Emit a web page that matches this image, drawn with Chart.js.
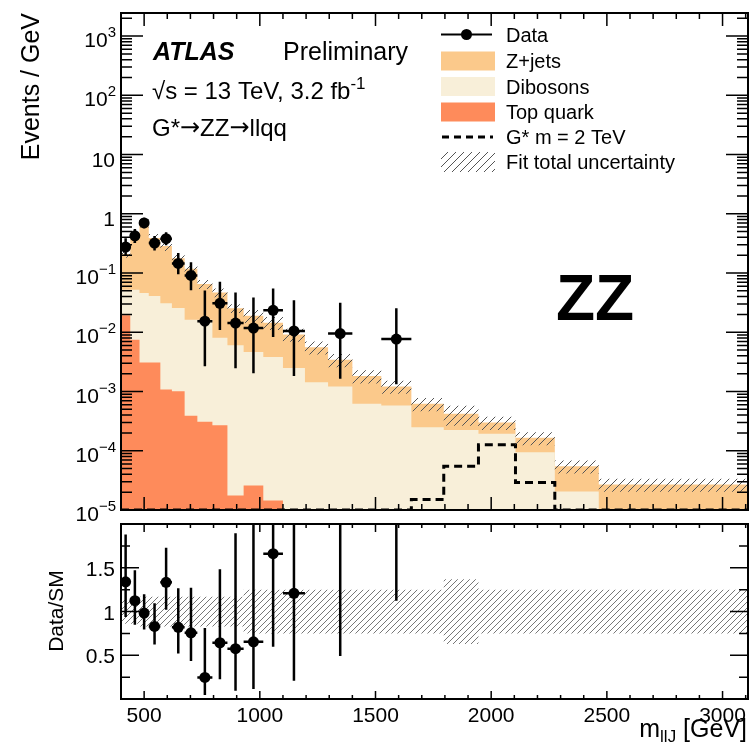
<!DOCTYPE html>
<html>
<head>
<meta charset="utf-8">
<script src="https://cdn.jsdelivr.net/npm/chart.js@4.4.0/dist/chart.umd.min.js"></script>
<style>
  html, body { margin: 0; padding: 0; background: #ffffff; }
  #wrap { position: relative; width: 755px; height: 752px; overflow: hidden; }
  #wrap canvas { position: absolute; left: 0; }
  #main { top: 0; }
  #ratio { top: 515px; }
</style>
</head>
<body>
<div id="wrap">
  <canvas id="main" width="755" height="540"></canvas>
  <canvas id="ratio" width="755" height="237"></canvas>
</div>
<script>
// ---- m_llJ binning [GeV] ----
const binEdges = [400, 440, 480, 520, 570, 620, 675, 730, 795, 860, 930, 1015, 1100,
                  1195, 1295, 1400, 1525, 1655, 1795, 1945, 2105, 2275, 2465, 3110];

// ---- background expectations, events / GeV ----
const zJets    = [0.158, 0.328, 0.664, 0.349, 0.254, 0.152, 0.102, 0.0487, 0.0389, 0.0195,
                  0.0144, 0.0107, 0.0067, 0.00416, 0.00222, 0.0012, 0.00064, 0.00037,
                  0.000195, 0.000107, 0.000071, 0.0000344, 0.000021];
const dibosons = [0.0327, 0.0445, 0.0429, 0.0379, 0.0299, 0.0246, 0.0159, 0.0160, 0.0078, 0.0060,
                  0.0046, 0.0038, 0.0025, 0.00144, 0.00122, 0.00062, 0.00058, 0.00025,
                  0.000225, 0.000193, 0.000094, 0.0000206, 0.000006];
const topQuark = [0.0193, 0.0075, 0.0031, 0.0031, 0.00108, 0.00101, 0.00039, 0.00031, 0.00027,
                  0.0000175, 0.000026, 0.0000145, 0, 0, 0, 0, 0, 0, 0, 0, 0, 0, 0];

// ---- G* (m = 2 TeV) signal, events / GeV ----
const signalG  = [0, 0, 0, 0, 0, 0, 0, 0, 0, 0, 0, 0, 0, 0, 0, 0, 0,
                  0.000015, 0.000055, 0.000126, 0.000029, 0, 0];

// ---- relative fit uncertainty on the total background ----
const fitUnc   = [0.14, 0.14, 0.17, 0.17, 0.17, 0.17, 0.17, 0.17, 0.17, 0.17,
                  0.25, 0.25, 0.25, 0.25, 0.25, 0.25, 0.25, 0.25, 0.37, 0.25, 0.25, 0.25, 0.25];

// ---- data, events / GeV, with lower / upper error-bar ends ----
const dataVal  = [0.275, 0.425, 0.70, 0.32, 0.38, 0.1455, 0.0909, 0.01538, 0.0308, 0.01429,
                  0.01176, 0.0235, 0.01053, null, 0.00952, null, 0.00769, null, null, null, null, null, null];
const dataLo   = [0.193, 0.3225, 0.5675, 0.24, 0.294, 0.0949, 0.0513, 0.00266, 0.0109, 0.00247,
                  0.00204, 0.0083, 0.00182, null, 0.00165, null, 0.00133, null, null, null, null, null, null];
const dataHi   = [0.386, 0.555, 0.86, 0.422, 0.488, 0.2175, 0.1527, 0.0508, 0.0714, 0.0471,
                  0.0388, 0.0546, 0.0347, null, 0.0314, null, 0.0254, null, null, null, null, null, null];

// ---- Data / SM ----
const ratioVal = [1.339, 1.124, 0.982, 0.830, 1.333, 0.819, 0.756, 0.247, 0.643, 0.575,
                  0.654, 1.661, 1.208, null, 2.77, null, 6.3, null, null, null, null, null, null];
const ratioLo  = [0.937, 0.849, 0.793, 0.623, 1.019, 0.521, 0.434, 0.046, 0.227, 0.095,
                  0.114, 0.597, 0.208, null, 0.491, null, 1.124, null, null, null, null, null, null];
const ratioHi  = [1.879, 1.472, 1.197, 1.095, 1.728, 1.265, 1.272, 0.812, 1.483, 1.894,
                  2.16, 3.86, 3.99, null, 9.1, null, 20.8, null, null, null, null, null, null];

// ---- axis ticks ----
const xTickLabels     = [500, 1000, 1500, 2000, 2500, 3000];
const yDecades        = [-5, -4, -3, -2, -1, 0, 1, 2, 3];
const ratioTickLabels = [0.5, 1, 1.5];

// ---- axis ranges ----
const X_MIN = 400, X_MAX = 3110;
const Y_MIN = 1e-5, Y_MAX = 2450;
const R_MIN = 0, R_MAX = 2;

const FONT = '"Liberation Sans", Arial, Helvetica, sans-serif';
const ARROW_FONT = '"DejaVu Sans", sans-serif';
const C_ZJETS = '#fbc98b';
const C_DIBOSON = '#f8efd9';
const C_TOP = '#fe8b5b';

const nBins = binEdges.length - 1;
const binCenter = binEdges.slice(0, -1).map((e, i) => (e + binEdges[i + 1]) / 2);

// stacked sums for drawing the stack
const dibTop = dibosons.map((d, i) => d + topQuark[i]);
const total = zJets.map((z, i) => z + dibTop[i]);

// histogram outline points (left edges + closing right edge) for a stepped line
function stepPoints(vals, floor) {
  const pts = vals.map((v, i) => ({ x: binEdges[i], y: Math.max(v, floor) }));
  pts.push({ x: binEdges[nBins], y: Math.max(vals[nBins - 1], floor) });
  return pts;
}

function hatchPattern(size, color, width) {
  const c = document.createElement('canvas');
  c.width = size; c.height = size;
  const g = c.getContext('2d');
  g.strokeStyle = color; g.lineWidth = width;
  g.beginPath();
  g.moveTo(0, size); g.lineTo(size, 0);
  g.moveTo(-size, size); g.lineTo(size, -size);
  g.moveTo(0, 2 * size); g.lineTo(2 * size, 0);
  g.stroke();
  return g.createPattern(c, 'repeat');
}
const hatchMain = hatchPattern(8, '#555555', 1);
const hatchRatio = hatchPattern(6, '#777777', 1);

function pointsWithErrors(vals, lo, hi) {
  const pts = [];
  vals.forEach((v, i) => {
    if (v === null) return;
    pts.push({ x: binCenter[i], y: v, lo: lo[i], hi: hi[i], x0: binEdges[i], x1: binEdges[i + 1] });
  });
  return pts;
}

// error bars drawn just before the data markers
const errorBars = {
  id: 'errorBars',
  beforeDatasetDraw(chart, args) {
    const ds = chart.data.datasets[args.index];
    if (!ds.withErrors) return;
    const { ctx, chartArea: a } = chart;
    const xs = chart.scales.x, ys = chart.scales.y;
    ctx.save();
    ctx.beginPath();
    ctx.rect(a.left, a.top, a.right - a.left, a.bottom - a.top);
    ctx.clip();
    ctx.strokeStyle = '#000';
    ctx.lineWidth = 2.5;
    ds.data.forEach(p => {
      const px = xs.getPixelForValue(p.x);
      const py = ys.getPixelForValue(p.y);
      ctx.beginPath();
      ctx.moveTo(px, ys.getPixelForValue(p.lo));
      ctx.lineTo(px, ys.getPixelForValue(p.hi));
      ctx.moveTo(xs.getPixelForValue(p.x0), py);
      ctx.lineTo(xs.getPixelForValue(p.x1), py);
      ctx.stroke();
    });
    ctx.restore();
  }
};

// text with optional raised / lowered parts
function drawPieces(ctx, pieces, x, y, align) {
  let w = 0;
  pieces.forEach(p => { ctx.font = p.font; w += ctx.measureText(p.t).width; });
  let cx = align === 'right' ? x - w : (align === 'center' ? x - w / 2 : x);
  ctx.textAlign = 'left';
  ctx.textBaseline = 'alphabetic';
  pieces.forEach(p => {
    ctx.font = p.font;
    ctx.fillText(p.t, cx, y + (p.dy || 0));
    cx += ctx.measureText(p.t).width;
  });
}

function drawFrameTicks(chart, cfg) {
  const { ctx, chartArea: a } = chart;
  const xs = chart.scales.x, ys = chart.scales.y;
  ctx.save();
  ctx.strokeStyle = '#000';
  ctx.lineWidth = 1.5;
  ctx.beginPath();
  // x ticks (bottom and top edges)
  for (let v = 500; v <= X_MAX; v += 100) {
    const px = xs.getPixelForValue(v);
    const len = v % 500 === 0 ? cfg.xMajor : cfg.xMinor;
    ctx.moveTo(px, a.bottom); ctx.lineTo(px, a.bottom - len);
    ctx.moveTo(px, a.top); ctx.lineTo(px, a.top + len);
  }
  // y ticks (left and right edges)
  cfg.yTicks.forEach(t => {
    const py = ys.getPixelForValue(t.v);
    ctx.moveTo(a.left, py); ctx.lineTo(a.left + t.len, py);
    ctx.moveTo(a.right, py); ctx.lineTo(a.right - t.len, py);
  });
  ctx.stroke();
  ctx.lineWidth = 2;
  ctx.strokeRect(a.left, a.top, a.right - a.left, a.bottom - a.top);
  ctx.restore();
}

// ---- upper panel decorations ----
const mainDecor = {
  id: 'mainDecor',
  afterDraw(chart) {
    const { ctx } = chart;
    const ys = chart.scales.y;
    const yTicks = [];
    yDecades.forEach(k => {
      yTicks.push({ v: Math.pow(10, k), len: 22 });
      for (let m = 2; m <= 9; m++) {
        const v = m * Math.pow(10, k);
        if (v < Y_MAX) yTicks.push({ v: v, len: 11 });
      }
    });
    drawFrameTicks(chart, { xMajor: 13, xMinor: 6, yTicks: yTicks });

    ctx.save();
    ctx.fillStyle = '#000';
    // y tick labels
    yDecades.forEach(k => {
      const py = ys.getPixelForValue(Math.pow(10, k));
      if (k === 0) drawPieces(ctx, [{ t: '1', font: '21px ' + FONT }], 115, py + 12, 'right');
      else if (k === 1) drawPieces(ctx, [{ t: '10', font: '21px ' + FONT }], 115, py + 12, 'right');
      else drawPieces(ctx, [
        { t: '10', font: '21px ' + FONT },
        { t: (k < 0 ? '\u2212' : '') + Math.abs(k), font: '15px ' + FONT, dy: -10 }
      ], 116, py + 11, 'right');
    });
    // y axis title
    ctx.save();
    ctx.translate(39, 13);
    ctx.rotate(-Math.PI / 2);
    ctx.font = '25px ' + FONT;
    ctx.textAlign = 'right';
    ctx.textBaseline = 'alphabetic';
    ctx.fillText('Events / GeV', 0, 0);
    ctx.restore();

    // labels
    drawPieces(ctx, [{ t: 'ATLAS', font: 'italic bold 25px ' + FONT }], 153, 60, 'left');
    drawPieces(ctx, [{ t: 'Preliminary', font: '25px ' + FONT }], 283, 60, 'left');
    drawPieces(ctx, [
      { t: '\u221As = 13 TeV, 3.2 fb', font: '24px ' + FONT },
      { t: '-1', font: '17px ' + FONT, dy: -10 }
    ], 152, 99, 'left');
    drawPieces(ctx, [
      { t: 'G*', font: '24px ' + FONT },
      { t: '\u2192', font: '24px ' + ARROW_FONT, dy: -1 },
      { t: 'ZZ', font: '24px ' + FONT },
      { t: '\u2192', font: '24px ' + ARROW_FONT, dy: -1 },
      { t: 'llqq', font: '24px ' + FONT }
    ], 152, 136, 'left');
    drawPieces(ctx, [{ t: 'ZZ', font: 'bold 64px ' + FONT }], 556, 320, 'left');

    // legend
    const rows = [34.5, 61, 86.5, 112, 137, 162];
    const lx0 = 441, lx1 = 495;
    ctx.strokeStyle = '#000';
    ctx.lineWidth = 2;
    ctx.beginPath(); ctx.moveTo(lx0, rows[0]); ctx.lineTo(lx1 - 3, rows[0]); ctx.stroke();
    ctx.beginPath(); ctx.arc((lx0 + lx1 - 3) / 2, rows[0], 5.5, 0, 2 * Math.PI); ctx.fill();
    [[C_ZJETS, rows[1]], [C_DIBOSON, rows[2]], [C_TOP, rows[3]]].forEach(([c, y]) => {
      ctx.fillStyle = c;
      ctx.fillRect(lx0, y - 9.5, lx1 - lx0, 19);
    });
    ctx.strokeStyle = '#000';
    ctx.lineWidth = 3;
    ctx.setLineDash([7, 5]);
    ctx.beginPath(); ctx.moveTo(lx0 + 1, rows[4]); ctx.lineTo(lx1 - 2, rows[4]); ctx.stroke();
    ctx.setLineDash([]);
    ctx.fillStyle = hatchMain;
    ctx.fillRect(lx0, rows[5] - 10, lx1 - lx0, 20);
    ctx.fillStyle = '#000';
    const names = ['Data', 'Z+jets', 'Dibosons', 'Top quark', 'G* m = 2 TeV', 'Fit total uncertainty'];
    names.forEach((n, i) => drawPieces(ctx, [{ t: n, font: '20px ' + FONT }], 506, rows[i] + 7, 'left'));
    ctx.restore();
  }
};

// ---- lower panel decorations ----
const ratioDecor = {
  id: 'ratioDecor',
  afterDraw(chart) {
    const { ctx } = chart;
    const xs = chart.scales.x, ys = chart.scales.y;
    const yTicks = [];
    [0.25, 0.5, 0.75, 1, 1.25, 1.5, 1.75].forEach(v => {
      yTicks.push({ v: v, len: ratioTickLabels.includes(v) ? 18 : 9 });
    });
    drawFrameTicks(chart, { xMajor: 8, xMinor: 4, yTicks: yTicks });
    ctx.save();
    ctx.fillStyle = '#000';
    ratioTickLabels.forEach(v => {
      drawPieces(ctx, [{ t: String(v), font: '21px ' + FONT }], 115, ys.getPixelForValue(v) + 8, 'right');
    });
    xTickLabels.forEach(v => {
      drawPieces(ctx, [{ t: String(v), font: '21px ' + FONT }], xs.getPixelForValue(v), 206.5, 'center');
    });
    ctx.save();
    ctx.translate(63, 96);
    ctx.rotate(-Math.PI / 2);
    ctx.font = '21px ' + FONT;
    ctx.textAlign = 'center';
    ctx.textBaseline = 'alphabetic';
    ctx.fillText('Data/SM', 0, 0);
    ctx.restore();
    drawPieces(ctx, [
      { t: 'm', font: '25px ' + FONT },
      { t: 'llJ', font: '17px ' + FONT, dy: 5 },
      { t: ' [GeV]', font: '25px ' + FONT }
    ], 747, 222, 'right');
    ctx.restore();
  }
};

const noGrid = { grid: { display: false }, border: { display: false }, ticks: { display: false } };

new Chart(document.getElementById('main'), {
  type: 'line',
  data: {
    datasets: [
      { label: 'Z+jets', data: stepPoints(total, Y_MIN), stepped: true, fill: 'start',
        backgroundColor: C_ZJETS, borderWidth: 0, pointRadius: 0, order: 6 },
      { label: 'Dibosons', data: stepPoints(dibTop, Y_MIN), stepped: true, fill: 'start',
        backgroundColor: C_DIBOSON, borderWidth: 0, pointRadius: 0, order: 5 },
      { label: 'Top quark', data: stepPoints(topQuark, Y_MIN), stepped: true, fill: 'start',
        backgroundColor: C_TOP, borderWidth: 0, pointRadius: 0, order: 4 },
      { label: 'G* m = 2 TeV', data: stepPoints(signalG, Y_MIN), stepped: true, fill: false,
        borderColor: '#000', borderWidth: 3, borderDash: [8, 5], pointRadius: 0, order: 3 },
      { label: 'Fit total uncertainty', data: stepPoints(total.map((t, i) => t * (1 + fitUnc[i])), Y_MIN),
        stepped: true, fill: '+1', backgroundColor: hatchMain, borderWidth: 0, pointRadius: 0, order: 2 },
      { label: 'unc-low', data: stepPoints(total.map((t, i) => t * (1 - fitUnc[i])), Y_MIN),
        stepped: true, fill: false, borderWidth: 0, pointRadius: 0, order: 2 },
      { label: 'Data', type: 'scatter', data: pointsWithErrors(dataVal, dataLo, dataHi), withErrors: true,
        pointRadius: 5.5, pointBackgroundColor: '#000', pointBorderWidth: 0, order: 1 }
    ]
  },
  options: {
    responsive: false, animation: false, devicePixelRatio: 1,
    layout: { padding: { left: 0, right: 7, top: 13, bottom: 0 } },
    plugins: { legend: { display: false }, tooltip: { enabled: false } },
    scales: {
      x: Object.assign({ type: 'linear', min: X_MIN, max: X_MAX, afterFit: s => { s.height = 30; } }, noGrid),
      y: Object.assign({ type: 'logarithmic', min: Y_MIN, max: Y_MAX, afterFit: s => { s.width = 121; } }, noGrid)
    }
  },
  plugins: [errorBars, mainDecor]
});

new Chart(document.getElementById('ratio'), {
  type: 'line',
  data: {
    datasets: [
      { label: 'Fit total uncertainty', data: stepPoints(fitUnc.map(u => 1 + u), R_MIN), stepped: true,
        fill: '+1', backgroundColor: hatchRatio, borderWidth: 0, pointRadius: 0, order: 2 },
      { label: 'unc-low', data: stepPoints(fitUnc.map(u => 1 - u), R_MIN), stepped: true,
        fill: false, borderWidth: 0, pointRadius: 0, order: 2 },
      { label: 'Data/SM', type: 'scatter', data: pointsWithErrors(ratioVal, ratioLo, ratioHi), withErrors: true,
        pointRadius: 5.5, pointBackgroundColor: '#000', pointBorderWidth: 0, order: 1 }
    ]
  },
  options: {
    responsive: false, animation: false, devicePixelRatio: 1,
    layout: { padding: { left: 0, right: 7, top: 9, bottom: 0 } },
    plugins: { legend: { display: false }, tooltip: { enabled: false } },
    scales: {
      x: Object.assign({ type: 'linear', min: X_MIN, max: X_MAX, afterFit: s => { s.height = 53; } }, noGrid),
      y: Object.assign({ type: 'linear', min: R_MIN, max: R_MAX, afterFit: s => { s.width = 121; } }, noGrid)
    }
  },
  plugins: [errorBars, ratioDecor]
});
</script>
</body>
</html>
